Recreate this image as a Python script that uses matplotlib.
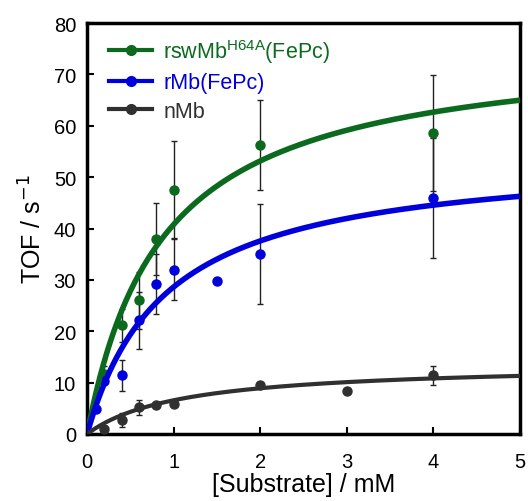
import numpy as np
import matplotlib
matplotlib.use("Agg")
import matplotlib.pyplot as plt

plt.rcParams['font.family'] = ['Liberation Sans', 'DejaVu Sans']

# data
x_green = [0.2, 0.4, 0.6, 0.8, 1.0, 2.0, 4.0]
y_green = [11.7, 21.2, 26.0, 38.0, 47.6, 56.3, 58.6]
e_green = [1.5, 3.2, 5.5, 7.0, 9.5, 8.8, 11.3]

x_blue = [0.1, 0.2, 0.4, 0.6, 0.8, 1.0, 1.5, 2.0, 4.0]
y_blue = [4.8, 10.4, 11.4, 22.1, 29.2, 32.0, 29.7, 35.0, 45.9]
e_blue = [0, 0, 3.0, 5.5, 5.8, 6.0, 0, 9.7, 11.7]

x_black = [0.2, 0.4, 0.6, 0.8, 1.0, 2.0, 3.0, 4.0]
y_black = [0.9, 2.7, 5.2, 5.7, 5.8, 9.5, 8.4, 11.4]
e_black = [0.3, 1.3, 1.5, 0, 0, 0, 0, 1.8]

# Michaelis-Menten fit parameters
vmax_green, km_green = 76.3, 0.87
vmax_blue, km_blue = 54.7, 0.91
vmax_black, km_black = 13.8, 1.10

c_green = '#0b6a1e'
c_blue = '#0000dd'
c_black = '#303030'

fig = plt.figure(figsize=(5.28, 5.02), dpi=100)
ax = fig.add_axes([0.165, 0.1335, 0.82, 0.8185])

xs = np.linspace(0, 5, 400)

series = [
    (x_green, y_green, e_green, vmax_green, km_green, c_green, 4.0, 'rswMb$^{\\mathregular{H64A}}$(FePc)'),
    (x_blue, y_blue, e_blue, vmax_blue, km_blue, c_blue, 4.0, 'rMb(FePc)'),
    (x_black, y_black, e_black, vmax_black, km_black, c_black, 3.0, 'nMb'),
]

handles = []
for xd, yd, ed, vm, km, c, lw, lab in series:
    ax.errorbar(xd, yd, yerr=ed, fmt='none', ecolor='#222222', elinewidth=1.0,
                capsize=2.5, capthick=1.0, zorder=2)
    ax.plot(xd, yd, 'o', color=c, ms=6.5, zorder=3)
    ax.plot(xs, vm * xs / (km + xs), '-', color=c, lw=lw, zorder=4)
    h, = ax.plot([], [], '-o', color=c, lw=3, ms=7, label=lab)
    handles.append(h)

ax.set_xlim(0, 5)
ax.set_ylim(0, 80)
ax.set_xticks([0, 1, 2, 3, 4, 5])
ax.set_yticks([0, 10, 20, 30, 40, 50, 60, 70, 80])
ax.tick_params(direction='in', length=5, width=1.5, labelsize=14.5,
               top=False, right=False)
ax.tick_params(axis='x', pad=13)
ax.tick_params(axis='y', pad=8)
for s in ax.spines.values():
    s.set_linewidth(2.5)

ax.set_xlabel('[Substrate] / mM', fontsize=18, labelpad=1)
ax.set_ylabel('TOF / s$^{-1}$', fontsize=18, labelpad=5)

leg = ax.legend(handles=handles, loc='upper left', frameon=False, fontsize=15.5,
                handlelength=2.0, handletextpad=0.5, borderaxespad=0.35,
                labelspacing=0.35, bbox_to_anchor=(0.014, 1.006))
for t, (_, _, _, _, _, c, _, _) in zip(leg.get_texts(), series):
    t.set_color(c)

fig.savefig('out.png', dpi=100)
